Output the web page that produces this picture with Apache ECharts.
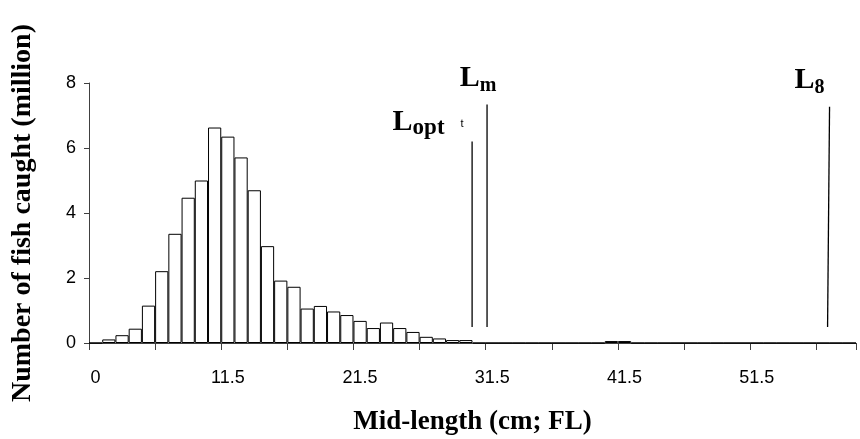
<!DOCTYPE html>
<html>
<head>
<meta charset="utf-8">
<script src="https://cdn.jsdelivr.net/npm/echarts@6/dist/echarts.min.js"></script>
<style>html,body{margin:0;padding:0;background:#fff;}#chart{width:860px;height:439px;}</style>
</head>
<body>
<div id="chart"></div>
<script>
// Mid-length classes (cm; FL) – first class is labelled "0" as in the source
const categories = ['0','2.5','3.5','4.5','5.5','6.5','7.5','8.5','9.5','10.5',
  '11.5','12.5','13.5','14.5','15.5','16.5','17.5','18.5','19.5','20.5',
  '21.5','22.5','23.5','24.5','25.5','26.5','27.5','28.5','29.5','30.5',
  '31.5','32.5','33.5','34.5','35.5','36.5','37.5','38.5','39.5','40.5',
  '41.5','42.5','43.5','44.5','45.5','46.5','47.5','48.5','49.5','50.5',
  '51.5','52.5','53.5','54.5','55.5','56.5','57.5','58.5'];
// Number of fish caught (million)
const catches = [0,0.11,0.24,0.44,1.15,2.21,3.36,4.47,5.0,6.63,
  6.35,5.71,4.70,2.98,1.92,1.73,1.06,1.14,0.97,0.86,
  0.68,0.46,0.63,0.46,0.34,0.19,0.14,0.09,0.09,0,
  0,0,0,0,0,0,0,0,0,0.06,
  0.06,0,0,0,0,0,0,0,0,0,
  0,0,0,0,0,0,0,0];
const yTicks = [0,2,4,6,8];
// Reference lengths (cm) drawn as vertical markers: [x bottom, x top], [y bottom, y top]
const loptX = [29.97, 29.97], loptY = [0.49, 6.2];
const lmX = [31.1, 31.1], lmY = [0.49, 7.34];
const linfX = [56.85, 57.0], linfY = [0.49, 7.27];

const serif = 'Liberation Serif, Times New Roman, serif';
const sans = 'Liberation Sans, Arial, sans-serif';
const richStyle = {
  L: {fontFamily: serif, fontWeight: 'bold', fontSize: 30, lineHeight: 32, verticalAlign: 'top', color: '#000'},
  s: {fontFamily: serif, fontWeight: 'bold', fontSize: 20, lineHeight: 10, verticalAlign: 'bottom', color: '#000'},
  so: {fontFamily: serif, fontWeight: 'bold', fontSize: 23, lineHeight: 10, verticalAlign: 'bottom', color: '#000'},
  t: {fontFamily: sans, fontSize: 11, lineHeight: 32, verticalAlign: 'middle', padding: [0, 0, 0, 16], color: '#000'}
};
function marker(xs, ys, text, offset) {
  return {
    type: 'line', xAxisIndex: 1, yAxisIndex: 0,
    symbol: 'circle', symbolSize: 0, silent: true,
    lineStyle: {color: '#000', width: 1.3},
    itemStyle: {color: '#000'},
    data: [
      [xs[0], ys[0]],
      {value: [xs[1], ys[1]], label: {show: true, position: 'top', distance: 2, offset: offset, formatter: text, rich: richStyle}}
    ]
  };
}

const chart = echarts.init(document.getElementById('chart'), null, {renderer: 'canvas'});
chart.setOption({
  animation: false,
  backgroundColor: '#fff',
  grid: {left: 89, right: 4, top: 83, bottom: 96, outerBoundsMode: 'none'},
  xAxis: [{
    type: 'category', data: categories, boundaryGap: true,
    name: 'Mid-length (cm; FL)', nameLocation: 'middle', nameGap: 66,
    nameTextStyle: {fontFamily: serif, fontWeight: 'bold', fontSize: 27, color: '#000'},
    axisLine: {show: true, lineStyle: {color: '#404040', width: 1}},
    axisTick: {show: true, interval: 4, length: 7, lineStyle: {color: '#404040'}},
    axisLabel: {interval: 9, margin: 26, fontFamily: sans, fontSize: 18, color: '#000'},
    splitLine: {show: false}
  }, {
    type: 'value', min: 1.0, max: 59.0, show: false
  }],
  yAxis: {
    type: 'value', min: 0, max: 8, interval: 2,
    name: 'Number of fish caught (million)', nameLocation: 'middle', nameGap: 52,
    nameTextStyle: {fontFamily: serif, fontWeight: 'bold', fontSize: 28, color: '#000'},
    axisLine: {show: true, lineStyle: {color: '#404040', width: 1}},
    axisTick: {show: true, length: 5, lineStyle: {color: '#404040'}},
    axisLabel: {margin: 13, fontFamily: sans, fontSize: 18, color: '#000',
      formatter: function (v) { return yTicks.indexOf(v) >= 0 ? String(v) : ''; }},
    splitLine: {show: false}
  },
  series: [
    {
      type: 'bar', data: catches, barCategoryGap: '0%', silent: true,
      itemStyle: {color: '#fff', borderColor: '#000', borderWidth: 1}
    },
    marker(loptX, loptY, '{L|L}{so|opt}{t|t}', [-44, 0]),
    marker(lmX, lmY, '{L|L}{s|m}', [-9, -7]),
    marker(linfX, linfY, '{L|L}{s|8}', [-20, -7])
  ]
});
</script>
</body>
</html>
